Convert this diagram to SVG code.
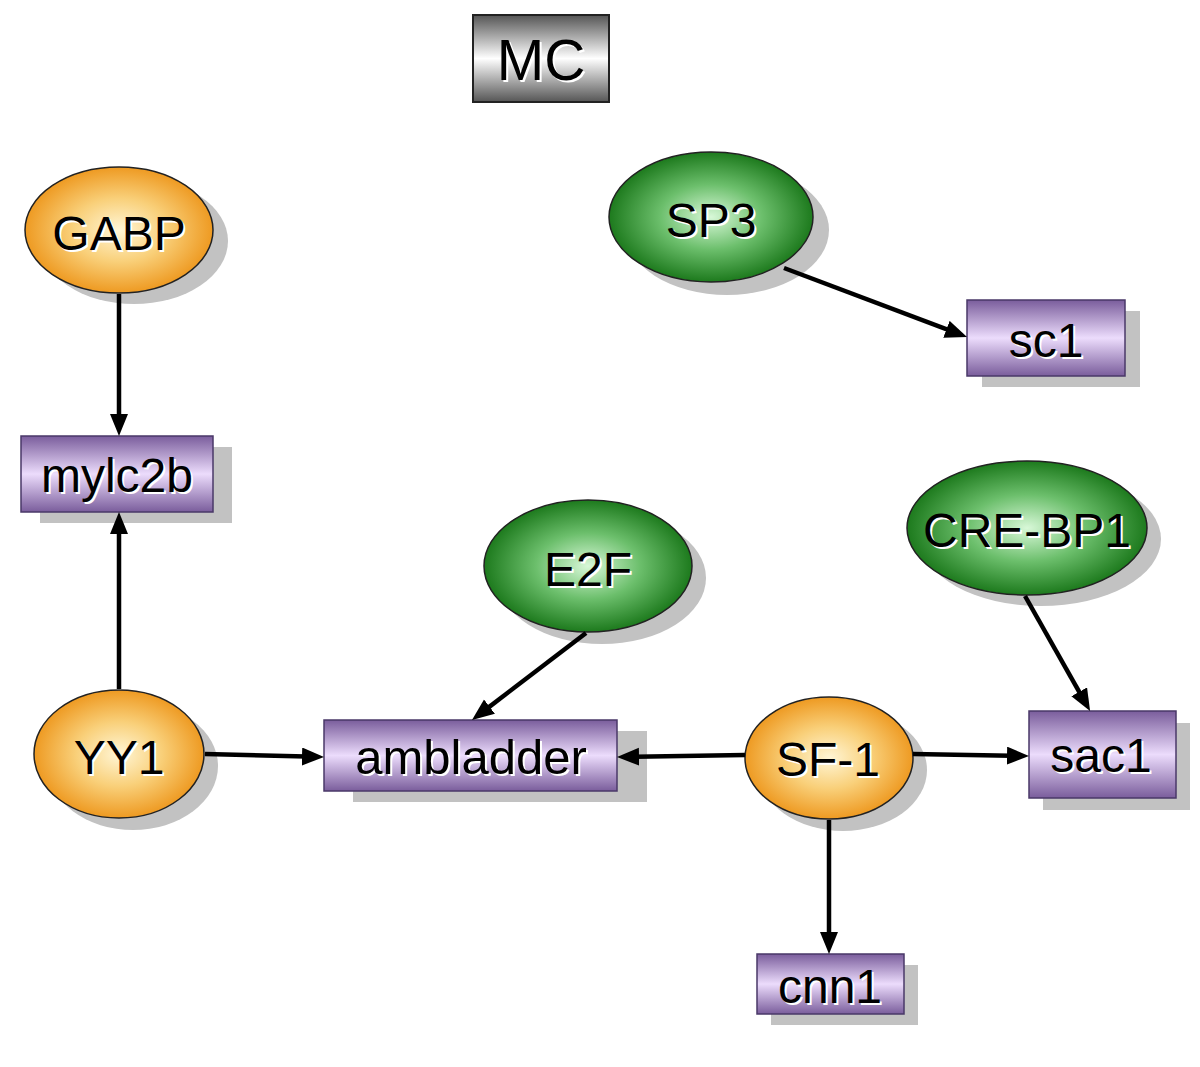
<svg xmlns="http://www.w3.org/2000/svg" width="1200" height="1067" viewBox="0 0 1200 1067">
<defs>
<radialGradient id="gOrange" cx="50%" cy="50%" r="50%">
<stop offset="0" stop-color="#fff6d6"/>
<stop offset="0.5" stop-color="#f9d07a"/>
<stop offset="1" stop-color="#ee9a22"/>
</radialGradient>
<radialGradient id="gGreen" cx="50%" cy="50%" r="50%">
<stop offset="0" stop-color="#d8f8d8"/>
<stop offset="0.5" stop-color="#6cbf6c"/>
<stop offset="1" stop-color="#1d7a1d"/>
</radialGradient>
<linearGradient id="gPurple" x1="0" y1="0" x2="0" y2="1">
<stop offset="0" stop-color="#7a5d9c"/>
<stop offset="0.5" stop-color="#ecdcfc"/>
<stop offset="1" stop-color="#7a5d9c"/>
</linearGradient>
<linearGradient id="gGray" x1="0" y1="0" x2="0" y2="1">
<stop offset="0" stop-color="#555"/>
<stop offset="0.5" stop-color="#fff"/>
<stop offset="1" stop-color="#555"/>
</linearGradient>
<marker id="arr" markerUnits="userSpaceOnUse" markerWidth="24" markerHeight="20" refX="4" refY="9" orient="auto">
<path d="M0,0 L22,9 L0,18 z" fill="#000"/>
</marker>
</defs>
<style>
.sh{fill:#c2c2c2}
.ell{stroke:#222;stroke-width:1.5}
.box{fill:url(#gPurple);stroke:#4a3868;stroke-width:1.5}
.t{font-family:"Liberation Sans",Arial,sans-serif;font-size:48px;text-anchor:middle;fill:#000}
.tw{font-family:"Liberation Sans",Arial,sans-serif;font-size:48px;text-anchor:middle;fill:#fff}
.e{stroke:#000;stroke-width:4.5;fill:none;marker-end:url(#arr)}
</style>
<g id="MC">
<rect x="473" y="15" width="136" height="87" fill="url(#gGray)" stroke="#222" stroke-width="2"/>
<text class="tw" x="543" y="82" style="font-size:57px">MC</text>
<text class="t" x="541" y="80" style="font-size:57px">MC</text>
</g>
<g id="GABP">
<ellipse class="sh" cx="134" cy="241" rx="94" ry="63"/>
<ellipse class="ell" cx="119" cy="230" rx="94" ry="63" fill="url(#gOrange)"/>
<text class="tw" x="121" y="252">GABP</text>
<text class="t" x="119" y="250">GABP</text>
</g>
<g id="mylc2b">
<rect class="sh" x="40" y="447" width="192" height="76"/>
<rect class="box" x="21" y="436" width="192" height="76"/>
<text class="tw" x="119" y="494">mylc2b</text>
<text class="t" x="117" y="492">mylc2b</text>
</g>
<g id="SP3">
<ellipse class="sh" cx="727" cy="230" rx="102" ry="65"/>
<ellipse class="ell" cx="711" cy="217" rx="102" ry="65" fill="url(#gGreen)"/>
<text class="tw" x="713" y="239">SP3</text>
<text class="t" x="711" y="237">SP3</text>
</g>
<g id="sc1">
<rect class="sh" x="982" y="311" width="158" height="76"/>
<rect class="box" x="967" y="300" width="158" height="76"/>
<text class="tw" x="1048" y="359">sc1</text>
<text class="t" x="1046" y="357">sc1</text>
</g>
<g id="E2F">
<ellipse class="sh" cx="602" cy="578" rx="104" ry="66"/>
<ellipse class="ell" cx="588" cy="566" rx="104" ry="66" fill="url(#gGreen)"/>
<text class="tw" x="590" y="588">E2F</text>
<text class="t" x="588" y="586">E2F</text>
</g>
<g id="CRE-BP1">
<ellipse class="sh" cx="1041" cy="539" rx="120" ry="67"/>
<ellipse class="ell" cx="1027" cy="528" rx="120" ry="67" fill="url(#gGreen)"/>
<text class="tw" x="1029" y="549">CRE-BP1</text>
<text class="t" x="1027" y="547">CRE-BP1</text>
</g>
<g id="YY1">
<ellipse class="sh" cx="133" cy="766" rx="85" ry="64"/>
<ellipse class="ell" cx="119" cy="754" rx="85" ry="64" fill="url(#gOrange)"/>
<text class="tw" x="121" y="776">YY1</text>
<text class="t" x="119" y="774">YY1</text>
</g>
<g id="ambladder">
<rect class="sh" x="353" y="731" width="294" height="71"/>
<rect class="box" x="324" y="720" width="293" height="71"/>
<text class="tw" x="473" y="776" style="font-size:49px">ambladder</text>
<text class="t" x="471" y="774" style="font-size:49px">ambladder</text>
</g>
<g id="SF-1">
<ellipse class="sh" cx="843" cy="770" rx="84" ry="61"/>
<ellipse class="ell" cx="829" cy="758" rx="84" ry="61" fill="url(#gOrange)"/>
<text class="tw" x="830" y="778">SF-1</text>
<text class="t" x="828" y="776">SF-1</text>
</g>
<g id="sac1">
<rect class="sh" x="1043" y="723" width="147" height="87"/>
<rect class="box" x="1029" y="711" width="147" height="87"/>
<text class="tw" x="1103" y="774">sac1</text>
<text class="t" x="1101" y="772">sac1</text>
</g>
<g id="cnn1">
<rect class="sh" x="771" y="965" width="147" height="60"/>
<rect class="box" x="757" y="954" width="147" height="60"/>
<text class="tw" x="832" y="1005">cnn1</text>
<text class="t" x="830" y="1003">cnn1</text>
</g>
<g id="connectors">
<line class="e" x1="119" y1="294" x2="119" y2="418"/>
<line class="e" x1="119" y1="689" x2="119" y2="530"/>
<line class="e" x1="205" y1="754" x2="306" y2="756.6"/>
<line class="e" x1="586" y1="633" x2="486.3" y2="709.1"/>
<line class="e" x1="745" y1="755" x2="635" y2="756.7"/>
<line class="e" x1="913" y1="754" x2="1011" y2="755.7"/>
<line class="e" x1="829" y1="820" x2="829" y2="936"/>
<line class="e" x1="1025" y1="596" x2="1081.2" y2="695.3"/>
<line class="e" x1="784" y1="268" x2="950.2" y2="330.7"/>
</g>
</svg>
